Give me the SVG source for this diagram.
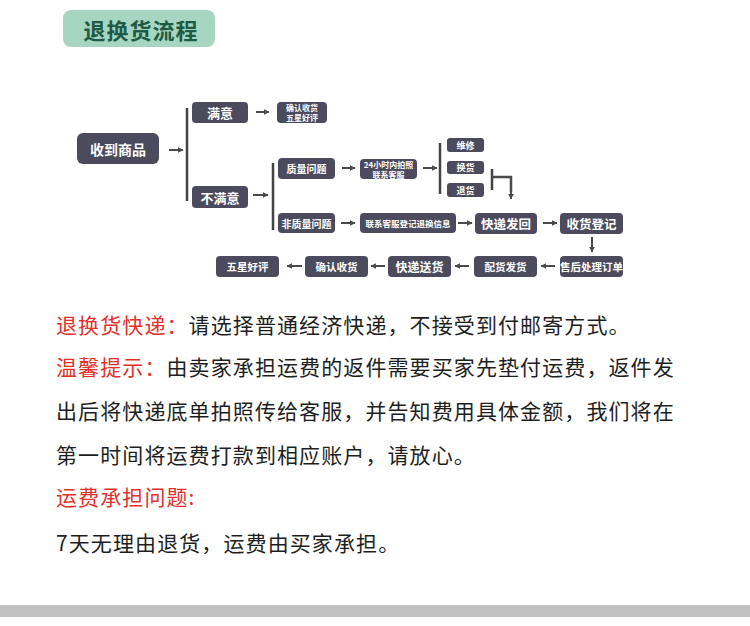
<svg xmlns="http://www.w3.org/2000/svg" width="750" height="626" viewBox="0 0 750 626">
<defs>
<marker id="ah" viewBox="0 0 10 10" refX="9" refY="5" markerWidth="6" markerHeight="6" markerUnits="userSpaceOnUse" orient="auto">
<path d="M0,0 L10,5 L0,10 z" fill="#4a4a4a"/>
</marker>
<style>
.box{fill:#4b4b5d}
.t{fill:#ffffff;font-family:"Noto Sans CJK SC","Noto Sans",sans-serif;font-weight:bold;text-anchor:middle;dominant-baseline:central}
.c{stroke:#4a4a4a;stroke-width:2;fill:none}
.a{stroke:#4a4a4a;stroke-width:2;fill:none;marker-end:url(#ah)}
.br{stroke:#444;stroke-width:2.5;fill:none}
.p{font-family:"Noto Sans CJK SC","Noto Sans",sans-serif;font-size:21px;letter-spacing:1.1px}
.red{fill:#e2312b}
.blk{fill:#1e1e1e}
</style>
</defs>
<rect width="750" height="626" fill="#ffffff"/>
<g id="title">
<rect x="63" y="10" width="152" height="37" rx="8" fill="#a6d6c2"/>
<text x="141" y="29" font-family="Noto Sans CJK SC,sans-serif" font-size="22" font-weight="bold" fill="#1f5a45" text-anchor="middle" dominant-baseline="central" letter-spacing="1">退换货流程</text>
</g>
<g id="connectors">
<path class="a" d="M169,150 H183"/>
<path class="br" d="M187,108 V201"/>
<path class="a" d="M256,112 H269"/>
<path class="a" d="M253,195 H268"/>
<path class="br" d="M273,163 V230"/>
<path class="a" d="M342,168 H355"/>
<path class="a" d="M423,168 H437"/>
<path class="br" d="M440,143 V194"/>
<path class="br" d="M492,169 V190"/>
<path class="c" d="M492,177 H511 V192" style="stroke-width:2.5"/>
<path class="a" d="M511,190 V199"/>
<path class="a" d="M341,223 H355"/>
<path class="a" d="M458,223 H472"/>
<path class="a" d="M543,223 H557"/>
<path class="a" d="M592,237 V252"/>
<path class="a" d="M555,266 H541"/>
<path class="a" d="M469,266 H455"/>
<path class="a" d="M385,266 H371"/>
<path class="a" d="M302,266 H287"/>
</g>
<g id="n1"><rect class="box" x="77" y="133" width="82" height="31" rx="6"/><text class="t" x="118" y="148.5" font-size="14">收到商品</text></g>
<g id="n2"><rect class="box" x="192" y="102" width="56" height="21" rx="4"/><text class="t" x="220" y="112.5" font-size="13">满意</text></g>
<g id="n3"><rect class="box" x="277" y="102" width="50" height="21" rx="4"/><text class="t" x="302" y="107.5" font-size="8">确认收货</text><text class="t" x="302" y="117.5" font-size="8">五星好评</text></g>
<g id="n4"><rect class="box" x="192" y="186" width="56" height="22" rx="4"/><text class="t" x="220" y="197" font-size="13">不满意</text></g>
<g id="n5"><rect class="box" x="278" y="158" width="57" height="21" rx="4"/><text class="t" x="306.5" y="168.5" font-size="10">质量问题</text></g>
<g id="n6"><rect class="box" x="360" y="159" width="57" height="20" rx="4"/><text class="t" x="388.5" y="164" font-size="8">24小时内拍照</text><text class="t" x="388.5" y="174" font-size="8">联系客服</text></g>
<g id="n7"><rect class="box" x="447" y="138" width="37" height="14" rx="3"/><text class="t" x="465.5" y="145" font-size="9">维修</text></g>
<g id="n8"><rect class="box" x="447" y="161" width="37" height="13" rx="3"/><text class="t" x="465.5" y="167.5" font-size="9">换货</text></g>
<g id="n9"><rect class="box" x="447" y="183" width="37" height="14" rx="3"/><text class="t" x="465.5" y="190" font-size="9">退货</text></g>
<g id="n10"><rect class="box" x="278" y="213" width="57" height="20" rx="4"/><text class="t" x="306.5" y="223" font-size="10">非质量问题</text></g>
<g id="n11"><rect class="box" x="360" y="213" width="96" height="20" rx="4"/><text class="t" x="408" y="223" font-size="8.5">联系客服登记退换信息</text></g>
<g id="n12"><rect class="box" x="475" y="213" width="62" height="21" rx="4"/><text class="t" x="506" y="223.5" font-size="12.5">快递发回</text></g>
<g id="n13"><rect class="box" x="560" y="213" width="63" height="21" rx="4"/><text class="t" x="591.5" y="223.5" font-size="12.5">收货登记</text></g>
<g id="n14"><rect class="box" x="560" y="256" width="63" height="21" rx="4"/><text class="t" x="591.5" y="266.5" font-size="10.5">售后处理订单</text></g>
<g id="n15"><rect class="box" x="474" y="256" width="63" height="21" rx="4"/><text class="t" x="505.5" y="266.5" font-size="10.5">配货发货</text></g>
<g id="n16"><rect class="box" x="388" y="256" width="63" height="21" rx="4"/><text class="t" x="419.5" y="266.5" font-size="12">快递送货</text></g>
<g id="n17"><rect class="box" x="305" y="256" width="63" height="21" rx="4"/><text class="t" x="336.5" y="266.5" font-size="10.5">确认收货</text></g>
<g id="n18"><rect class="box" x="216" y="256" width="63" height="21" rx="4"/><text class="t" x="247.5" y="266.5" font-size="10.5">五星好评</text></g>
<g id="notes">
<text class="p" x="56" y="333"><tspan class="red">退换货快递：</tspan><tspan class="blk">请选择普通经济快递，不接受到付邮寄方式。</tspan></text>
<text class="p" x="56" y="375"><tspan class="red">温馨提示：</tspan><tspan class="blk">由卖家承担运费的返件需要买家先垫付运费，返件发</tspan></text>
<text class="p blk" x="56" y="419">出后将快递底单拍照传给客服，并告知费用具体金额，我们将在</text>
<text class="p blk" x="56" y="463">第一时间将运费打款到相应账户，请放心。</text>
<text class="p red" x="56" y="505">运费承担问题:</text>
<text class="p blk" x="56" y="551">7天无理由退货，运费由买家承担。</text>
</g>
<rect x="0" y="605" width="750" height="12" fill="#c1c1c1"/>
</svg>
